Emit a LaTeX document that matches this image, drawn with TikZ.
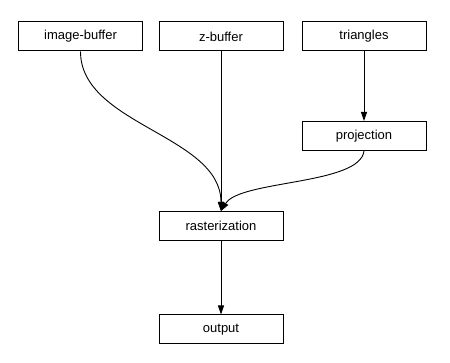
\documentclass[tikz,border=0pt]{standalone}
\usepackage{fontspec}
\setmainfont{Liberation Sans}
\usetikzlibrary{arrows.meta}
\begin{document}
\begin{tikzpicture}[x=1pt,y=-1pt,
        box/.style={draw=black,fill=white,line width=1pt,
                    minimum width=124pt,minimum height=29pt,inner sep=0pt,
                    font=\fontsize{13}{15}\selectfont},
        arr/.style={-{Triangle[length=9pt,width=6pt]},line width=0.9pt}
      ]
        \useasboundingbox (0,0) rectangle (450,363);
        \node[box] (imgbuf) at (80.5,36.5) {image-buffer};
        \node[box] (zbuf) at (221,36.5) {z-buffer};
        \node[box] (tri) at (364,36.5) {triangles};
        \node[box] (proj) at (364,136) {projection};
        \node[box] (rast) at (221,226) {rasterization};
        \node[box] (out) at (221,329.5) {output};
        \draw[arr] (imgbuf.south) .. controls (80.5,125) and (221,135) .. (rast.north);
        \draw[arr] (zbuf)--(rast);
        \draw[arr] (tri)--(proj);
        \draw[arr] (proj.south) .. controls (360,185) and (240,180) .. (rast.north);
        \draw[arr] (rast)--(out);
      \end{tikzpicture}
\end{document}
